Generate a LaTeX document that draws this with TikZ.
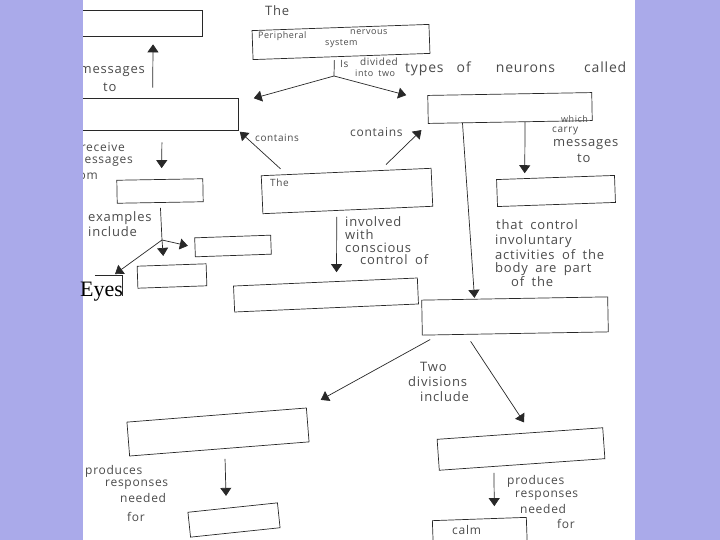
\documentclass[tikz,border=0pt]{standalone}
\usepackage{fontspec}
\setmainfont{Liberation Serif}
\newfontfamily\hand[LetterSpace=6,WordSpace=1.8]{Open Sans}
\usetikzlibrary{arrows.meta,calc}
\definecolor{lav}{RGB}{170,170,234}
\definecolor{ink}{RGB}{40,40,40}
\definecolor{pencil}{RGB}{75,75,75}
\tikzset{
  box/.style={draw=ink, line width=0.7pt, inner sep=0pt},
  ghost/.style={inner sep=0pt},
  arr/.style={draw=ink, line width=0.7pt, -{Triangle[width=11pt,length=8pt]}},
  ln/.style={draw=ink, line width=0.7pt},
  hw/.style={font=\hand\fontsize{13}{15}\selectfont, text=pencil, inner sep=0pt, anchor=west},
  hwm/.style={hw, font=\hand\fontsize{12}{14}\selectfont},
  hws/.style={hw, font=\hand\fontsize{10}{12}\selectfont},
  hwxs/.style={hw, font=\hand\fontsize{9}{11}\selectfont},
}
\begin{document}
\begin{tikzpicture}[x=1pt,y=-1pt]
\useasboundingbox (0,0) rectangle (720,540);
\clip (0,0) rectangle (720,540);
\fill[white] (0,0) rectangle (720,540);

% boxes
\node[box, minimum width=142pt, minimum height=26pt] (b1) at (131,23) {};
\node[box, minimum width=177pt, minimum height=29pt, rotate=2] (pns) at (341,42) {};
\node[box, minimum width=178pt, minimum height=32pt] (b2) at (149,114) {};
\node[box, minimum width=164pt, minimum height=28pt, rotate=1] (r1) at (510,108) {};
\node[box, minimum width=170pt, minimum height=38pt, rotate=2.5] (m1) at (347,191) {};
\node[box, minimum width=86pt, minimum height=23pt, rotate=1] (l3) at (160,191) {};
\node[box, minimum width=76pt, minimum height=19pt, rotate=2] (l4) at (233,246) {};
\node[box, minimum width=69pt, minimum height=22pt, rotate=2] (l5) at (172,276) {};
\node[ghost, minimum width=27pt, minimum height=20pt] (eb) at (108.5,286) {};
\draw[ln] (eb.north west) -- (eb.north east) -- (eb.south east);
\node[box, minimum width=184pt, minimum height=26pt, rotate=2.5] (m2) at (326,295) {};
\node[box, minimum width=118pt, minimum height=27pt, rotate=2] (r2) at (556,191) {};
\node[box, minimum width=186pt, minimum height=35pt, rotate=1] (r3) at (515,316) {};
\node[box, minimum width=180pt, minimum height=34pt, rotate=4.5] (bl) at (218,432) {};
\node[box, minimum width=90pt, minimum height=25pt, rotate=6] (bll) at (234,520) {};
\node[box, minimum width=166pt, minimum height=31pt, rotate=4] (br) at (521,449) {};
\node[box, minimum width=94pt, minimum height=38pt, rotate=2] (calm) at (480,538) {};

% texts in boxes
\node[hw] (tThe) at (265,11) {The};
\node[hwxs] (tPer) at (258,36) {Peripheral};
\node[hwxs] (tNer) at (350,32) {nervous};
\node[hwxs] (tSys) at (325,44) {system};
\node[hws] (tThe2) at (270,183) {The};
\node[hwm] (tCalm) at (452,530) {calm};

% connectors
\draw[arr, shorten <=10pt, shorten >=8pt] ($(b2.north west)!.52!(b2.north east)$) -- ($(b1.south west)!.655!(b1.south east)$);
\coordinate (j1) at (334,76);
\draw[ln, shorten <=3pt] ($(pns.south west)!.46!(pns.south east)$) -- (j1);
\draw[arr, shorten >=16pt] (j1) -- ($(b2.north east)!.15!(b2.south east)$);
\draw[arr, shorten >=22pt] (j1) -- ($(r1.north west)!.2!(r1.south west)$);
\draw[arr, shorten <=8pt, shorten >=2pt] ($(m1.north west)!.15!(m1.north east)$) -- (b2.south east);
\draw[arr, shorten <=8pt, shorten >=9pt] ($(m1.north west)!.7!(m1.north east)$) -- (r1.south west);
\draw[arr, shorten <=12pt, shorten >=11pt] ($(b2.south west)!.573!(b2.south east)$) -- ($(l3.north west)!.52!(l3.north east)$);
\coordinate (j2) at (162,240);
\draw[ln, shorten <=5pt] ($(l3.south west)!.5!(l3.south east)$) -- (j2);
\draw[arr, shorten >=9pt] (j2) -- ($(l5.north west)!.39!(l5.north east)$);
\draw[arr, shorten >=7pt] (j2) -- (l4.west);
\draw[arr, shorten >=3pt] (j2) -- ($(eb.north west)!.65!(eb.north east)$);
\draw[arr, shorten <=6pt, shorten >=9pt] ($(m1.south west)!.435!(m1.south east)$) -- ($(m2.north west)!.56!(m2.north east)$);
\draw[arr, shorten >=1pt] ($(r1.south west)!.21!(r1.south east)$) -- ($(r3.north west)!.285!(r3.north east)$);
\draw[arr, shorten >=5pt] ($(r1.south west)!.59!(r1.south east)$) -- ($(r2.north west)!.24!(r2.north east)$);
\draw[arr, shorten <=9pt, shorten >=16pt] ($(r3.south west)!.086!(r3.south east)$) -- (bl.north east);
\draw[arr, shorten <=8pt, shorten >=12pt] ($(r3.south west)!.237!(r3.south east)$) -- ($(br.north west)!.565!(br.north east)$);
\draw[arr, shorten <=10pt, shorten >=12pt] ($(bl.south west)!.53!(bl.south east)$) -- ($(bll.north west)!.43!(bll.north east)$);
\draw[arr, shorten <=6pt, shorten >=12pt] ($(br.south west)!.33!(br.south east)$) -- ($(calm.north west)!.66!(calm.north east)$);

% labels
\node[hw, anchor=east] (lMes1) at (145,72) {messages};
\node[hw] (lTo1) at (103,87) {to};
\node[hws] (lIs) at (340,64) {Is};
\node[hws] (lDiv) at (360,62) {divided};
\node[hwxs] (lInto) at (355,73) {into two};
\node[hw, font=\hand\fontsize{14}{16}\selectfont] (lTypes) at (405,69) {types\hspace{5pt} of\hspace{17pt} neurons\hspace{21pt} called};
\node[hws] (lCon1) at (255,138) {contains};
\node[hwm] (lCon2) at (350,132) {contains};
\node[hwm, anchor=east] (lRec) at (125,147) {receive};
\node[hwm, anchor=east] (lMes2) at (133,162) {messages};
\node[hwm, anchor=east] (lFrom) at (98,175) {from};
\node[hw] (lEx) at (88,218) {examples};
\node[hw] (lInc) at (88,232) {include};
\node[hw] (lInv) at (345,222) {involved};
\node[hw] (lWith) at (345,235) {with};
\node[hw] (lCons) at (345,248) {conscious};
\node[hw] (lCtrl) at (360,260) {control of};
\node[hwxs] (lWhich) at (561,119) {which};
\node[hws] (lCarry) at (552,131) {carry};
\node[hw] (lMes3) at (553,145) {messages};
\node[hw] (lTo3) at (577,158) {to};
\node[hw] (lThat) at (496,225) {that control};
\node[hw] (lInvol) at (495,241) {involuntary};
\node[hw] (lAct) at (495,255) {activities of the};
\node[hw] (lBody) at (495,269) {body are part};
\node[hw] (lOf) at (511,282) {of the};
\node[hw] (lTwo) at (420,367) {Two};
\node[hw] (lDivs) at (408,382) {divisions};
\node[hw] (lInc2) at (420,397) {include};
\node[hwm] (lP1) at (85,471) {produces};
\node[hwm] (lR1) at (105,485) {responses};
\node[hwm] (lN1) at (120,498) {needed};
\node[hwm] (lF1) at (127,517) {for};
\node[hwm] (lP2) at (507,481) {produces};
\node[hwm] (lR2) at (515,496) {responses};
\node[hwm] (lN2) at (520,509) {needed};
\node[hwm] (lF2) at (557,524) {for};

% lavender side panels
\fill[lav] (0,0) rectangle (83,540);
\fill[lav] (635,0) rectangle (720,540);

\node[font=\fontsize{22}{24}\selectfont, anchor=base west, inner sep=0pt] (eyes) at (80,296) {Eyes};
\end{tikzpicture}
\end{document}
